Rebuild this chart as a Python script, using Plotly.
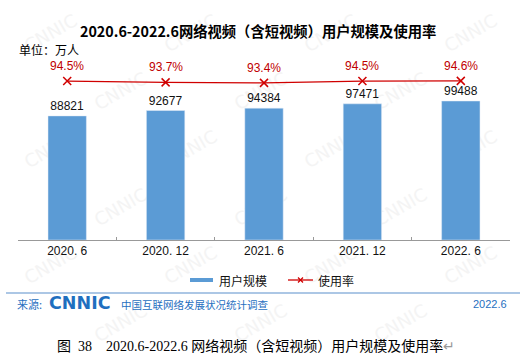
import plotly.graph_objects as go

categories = ["2020. 6", "2020. 12", "2021. 6", "2021. 12", "2022. 6"]
users = [88821, 92677, 94384, 97471, 99488]
rate = [94.5, 93.7, 93.4, 94.5, 94.6]
rate_labels = ["94.5%", "93.7%", "93.4%", "94.5%", "94.6%"]

W, H = 521, 362
def px(x):
    return x / W
def py(y):
    return (H - y) / H

BLUE = "#5B9BD5"
RED = "#D00000"
FOOT = "#1F6FBF"
CJK = "Noto Sans CJK SC, Microsoft YaHei, sans-serif"

fig = go.Figure()
fig.add_trace(go.Bar(
    x=categories, y=users, name="用户规模", marker_color=BLUE, width=0.39,
    text=[str(v) for v in users], textposition="outside",
    textfont=dict(size=12, color="#111", family="Liberation Sans, Arial"),
    cliponaxis=False, showlegend=False,
))
fig.add_trace(go.Scatter(
    x=categories, y=rate, name="使用率", yaxis="y2", mode="lines+markers",
    line=dict(color=RED, width=1.3),
    marker=dict(symbol="x-thin-open", size=8, line=dict(color=RED, width=1.5)),
    cliponaxis=False, showlegend=False,
))

shapes = []
annotations = []

for c, r, lab in zip(categories, rate, rate_labels):
    annotations.append(dict(text=lab, x=c, y=r, xref="x", yref="y2", yshift=15,
                            showarrow=False, xanchor="center", yanchor="middle",
                            font=dict(size=12, color="#C00000", family="Liberation Sans, Arial")))

# watermarks (kept inside the canvas)
for row in range(6):
    y = 32 + row * 58
    off = 0 if row % 2 == 0 else 70
    for col in range(4):
        x = 50 + off + col * 140
        if x > 480:
            continue
        shapes.append(dict(type="rect", xref="paper", yref="paper",
                           x0=px(x - 1), x1=px(x + 1), y0=py(y + 1), y1=py(y - 1),
                           line=dict(width=0), fillcolor="rgba(0,0,0,0)", layer="below",
                           label=dict(text="CNNIC", textangle=-30, textposition="middle center",
                                      font=dict(size=18, color="#F4F4F4", family="DejaVu Sans"))))

# legend (manual)
shapes.append(dict(type="rect", xref="paper", yref="paper", x0=px(190), x1=px(213),
                   y0=py(282), y1=py(278), fillcolor=BLUE, line=dict(width=0)))
shapes.append(dict(type="line", xref="paper", yref="paper", x0=px(288), x1=px(313),
                   y0=py(280), y1=py(280), line=dict(color=RED, width=1.3)))
shapes.append(dict(type="line", xref="paper", yref="paper", x0=px(298), x1=px(303),
                   y0=py(277.5), y1=py(282.5), line=dict(color=RED, width=1.3)))
shapes.append(dict(type="line", xref="paper", yref="paper", x0=px(298), x1=px(303),
                   y0=py(282.5), y1=py(277.5), line=dict(color=RED, width=1.3)))
annotations.append(dict(text="用户规模", x=px(217), y=py(280), xref="paper", yref="paper",
                        xanchor="left", yanchor="middle", showarrow=False,
                        font=dict(size=12, color="#111", family=CJK)))
annotations.append(dict(text="使用率", x=px(316), y=py(280), xref="paper", yref="paper",
                        xanchor="left", yanchor="middle", showarrow=False,
                        font=dict(size=12, color="#111", family=CJK)))

# footer line
shapes.append(dict(type="line", xref="paper", yref="paper", x0=px(6), x1=px(520),
                   y0=py(293), y1=py(293), line=dict(color="#5B8FCB", width=1.2)))

# title and unit
annotations.append(dict(text="<b>2020.6-2022.6网络视频（含短视频）用户规模及使用率</b>",
                        x=px(258), y=py(31), xref="paper", yref="paper", showarrow=False,
                        xanchor="center", yanchor="middle",
                        font=dict(size=14.3, color="#000", family=CJK)))
annotations.append(dict(text="单位：万人", x=px(17), y=py(49), xref="paper", yref="paper",
                        showarrow=False, xanchor="left", yanchor="middle",
                        font=dict(size=12, color="#000", family=CJK)))

# footer
annotations.append(dict(text="来源:", x=px(15), y=py(304), xref="paper", yref="paper",
                        showarrow=False, xanchor="left", yanchor="middle",
                        font=dict(size=11, color=FOOT, family=CJK)))
annotations.append(dict(text="<b>CNNIC</b>", x=px(47), y=py(303), xref="paper", yref="paper",
                        showarrow=False, xanchor="left", yanchor="middle",
                        font=dict(size=17.5, color=FOOT, family="DejaVu Sans")))
annotations.append(dict(text="中国互联网络发展状况统计调查", x=px(119), y=py(304), xref="paper", yref="paper",
                        showarrow=False, xanchor="left", yanchor="middle",
                        font=dict(size=10.5, color=FOOT, family=CJK)))
annotations.append(dict(text="2022.6", x=px(509), y=py(304), xref="paper", yref="paper",
                        showarrow=False, xanchor="right", yanchor="middle",
                        font=dict(size=11, color=FOOT, family="Liberation Sans, Arial")))

# caption
annotations.append(dict(text="图  38    2020.6-2022.6 网络视频（含短视频）用户规模及使用率<span style='color:#999'>↵</span>",
                        x=px(55), y=py(346), xref="paper", yref="paper",
                        showarrow=False, xanchor="left", yanchor="middle",
                        font=dict(size=14, color="#000", family="Liberation Serif, Noto Sans CJK SC")))

fig.update_layout(
    width=W, height=H, margin=dict(l=0, r=0, t=0, b=0),
    paper_bgcolor="white", plot_bgcolor="rgba(0,0,0,0)",
    xaxis=dict(domain=[px(18), px(510)], showgrid=False, showline=True, linecolor="#999",
               linewidth=1, ticks="inside", ticklen=3, tickcolor="#999", tickson="boundaries",
               tickfont=dict(size=12, color="#111", family="Liberation Sans, Arial")),
    yaxis=dict(domain=[py(240), py(40)], range=[0, 143150], visible=False),
    yaxis2=dict(overlaying="y", range=[0, 118.9], visible=False),
    shapes=shapes, annotations=annotations, bargap=0.61,
)

fig.write_html("out.html", config={"displayModeBar": False},
               post_script="document.body.style.margin='0';document.body.style.overflow='hidden';")
